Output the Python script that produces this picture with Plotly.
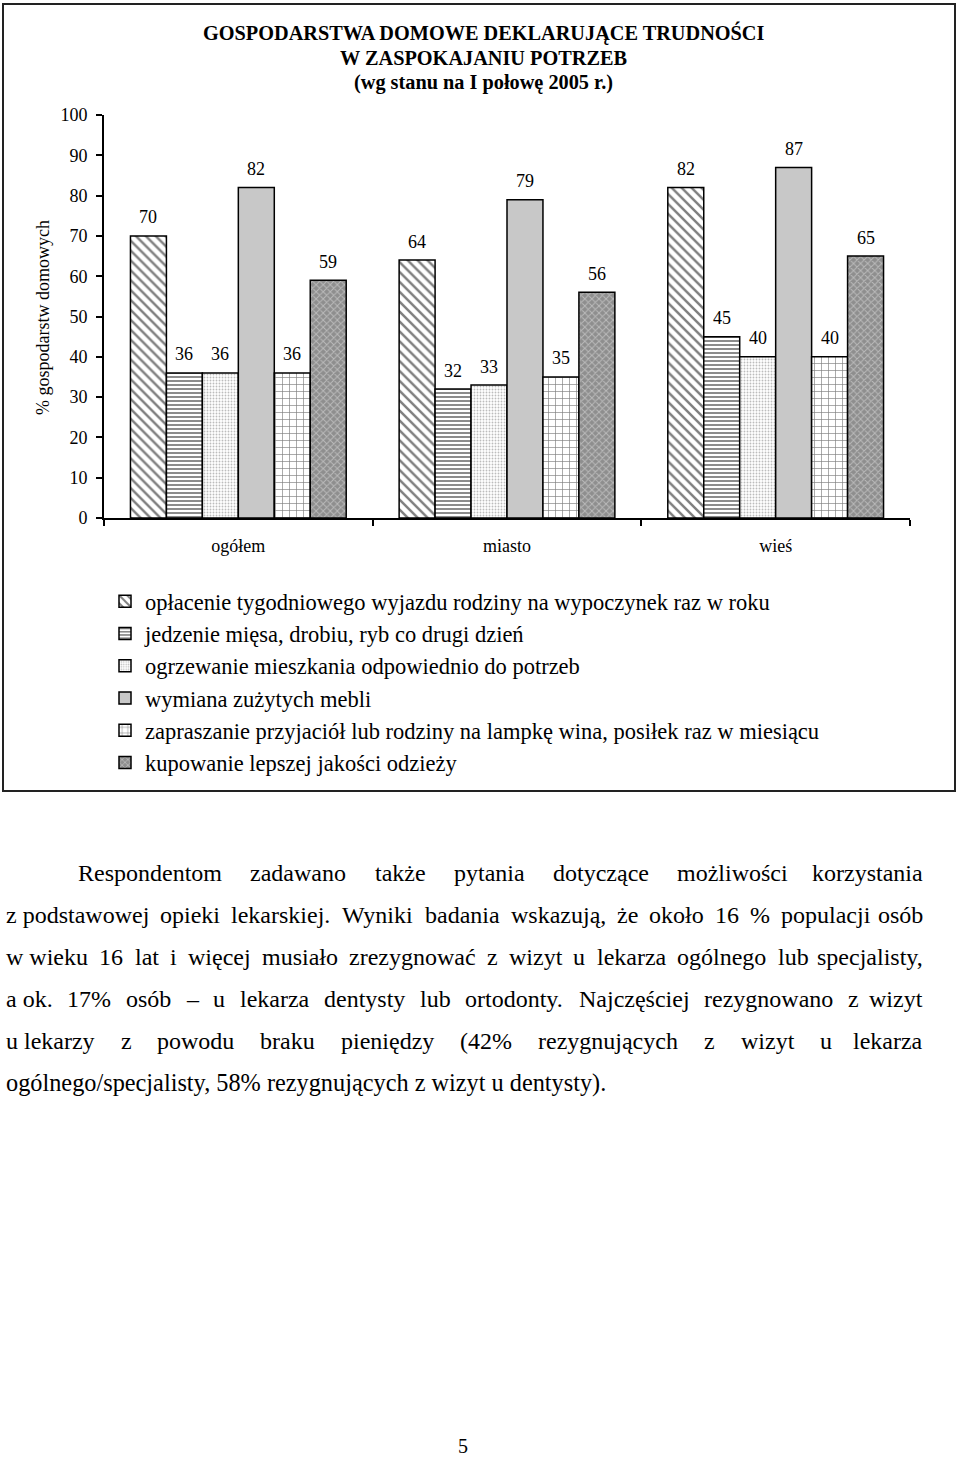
import plotly.graph_objects as go

# ---------------- data ----------------
categories = ["ogółem", "miasto", "wieś"]
series_names = [
    "opłacenie tygodniowego wyjazdu rodziny na wypoczynek raz w roku",
    "jedzenie mięsa, drobiu, ryb co drugi dzień",
    "ogrzewanie mieszkania odpowiednio do potrzeb",
    "wymiana zużytych mebli",
    "zapraszanie przyjaciół lub rodziny na lampkę wina, posiłek raz w miesiącu",
    "kupowanie lepszej jakości odzieży",
]
wyjazd = [70, 64, 82]
jedzenie = [36, 32, 45]
ogrzewanie = [36, 33, 40]
meble = [82, 79, 87]
zapraszanie = [36, 35, 40]
odziez = [59, 56, 65]
series_values = [wyjazd, jedzenie, ogrzewanie, meble, zapraszanie, odziez]

y_ticks = [0, 10, 20, 30, 40, 50, 60, 70, 80, 90, 100]

title_lines = [
    "GOSPODARSTWA DOMOWE DEKLARUJĄCE TRUDNOŚCI",
    "W ZASPOKAJANIU POTRZEB",
    "(wg stanu na I połowę 2005 r.)",
]
y_title = "% gospodarstw domowych"

paragraph_lines = [
    "Respondentom zadawano także pytania dotyczące możliwości korzystania",
    "z\u00a0podstawowej opieki lekarskiej. Wyniki badania wskazują, że około 16 % populacji osób",
    "w\u00a0wieku 16 lat i więcej musiało zrezygnować z wizyt u lekarza ogólnego lub specjalisty,",
    "a\u00a0ok. 17% osób – u lekarza dentysty lub ortodonty. Najczęściej rezygnowano z wizyt",
    "u\u00a0lekarzy z powodu braku pieniędzy (42% rezygnujących z wizyt u lekarza",
    "ogólnego/specjalisty, 58% rezygnujących z wizyt u dentysty).",
]
page_number = "5"

# ---------------- layout constants ----------------
W, H = 960, 1460
ML, MR, MT, MB = 104, 50, 115, 942
PW, PH = W - ML - MR, H - MT - MB
BARGAP = 0.197
SERIF = "Liberation Serif, Times New Roman, serif"


def px2x(px):
    return (px - ML) / PW


def py2y(py):
    return (H - MB - py) / PH


patterns = [
    dict(shape="\\", fgcolor="black", bgcolor="white", size=7, solidity=0.35),
    dict(shape="-", fgcolor="black", bgcolor="white", size=4, solidity=0.45),
    dict(shape=".", fgcolor="#7a7a7a", bgcolor="white", size=3, solidity=0.3),
    None,
    dict(shape="+", fgcolor="black", bgcolor="white", size=7, solidity=0.18),
    dict(shape="x", fgcolor="#e6e6e6", bgcolor="#8e8e8e", size=5, solidity=0.35),
]
base_colors = ["white", "white", "white", "#c8c8c8", "white", "#8e8e8e"]

fig = go.Figure()
for i, (name, vals) in enumerate(zip(series_names, series_values)):
    marker = dict(color=base_colors[i], line=dict(color="black", width=1.5))
    if patterns[i] is not None:
        marker["pattern"] = patterns[i]
    fig.add_trace(go.Bar(x=categories, y=vals, name=name, marker=marker,
                         legendgroup=str(i), hoverinfo="skip"))

annotations = []
# data labels
bar_px = PW / len(categories) * (1 - BARGAP) / len(series_values)
n = len(series_values)
for i, vals in enumerate(series_values):
    for c, v in zip(categories, vals):
        annotations.append(dict(
            x=c, y=v, xref="x", yref="y", text=str(v), showarrow=False,
            xshift=(i - (n - 1) / 2) * bar_px, yshift=18.5,
            yanchor="middle", xanchor="center",
            font=dict(family=SERIF, size=18, color="black")))

# title
for k, (line, py) in enumerate(zip(title_lines, [33, 58, 83])):
    annotations.append(dict(
        x=px2x(483), y=py2y(py), xref="paper", yref="paper", text="<b>%s</b>" % line,
        showarrow=False, xanchor="center", yanchor="middle",
        font=dict(family=SERIF, size=20.3, color="black")))

# y axis title
annotations.append(dict(
    x=px2x(43), y=py2y(317), xref="paper", yref="paper", text=y_title,
    showarrow=False, textangle=-90, xanchor="center", yanchor="middle",
    font=dict(family=SERIF, size=18, color="black")))

# paragraph (justified) using Times metrics
TW = {' ': 250, '\u00a0': 250, '%': 833, '(': 333, ')': 333, ',': 250, '-': 333, '.': 250,
      '/': 278, ':': 278, ';': 278, '–': 500,
      'A': 722, 'B': 667, 'C': 667, 'D': 722, 'E': 611, 'F': 556, 'G': 722, 'H': 722,
      'I': 333, 'J': 389, 'K': 722, 'L': 611, 'M': 889, 'N': 722, 'O': 722, 'P': 556,
      'R': 667, 'S': 556, 'T': 611, 'U': 722, 'W': 944, 'Z': 611,
      'a': 444, 'b': 500, 'c': 444, 'd': 500, 'e': 444, 'f': 333, 'g': 500, 'h': 500,
      'i': 278, 'j': 278, 'k': 500, 'l': 278, 'm': 778, 'n': 500, 'o': 500, 'p': 500,
      'q': 500, 'r': 333, 's': 389, 't': 278, 'u': 500, 'v': 500, 'w': 722, 'x': 500,
      'y': 500, 'z': 444, 'ą': 444, 'ę': 444, 'ó': 500, 'ł': 278, 'ż': 444, 'ź': 444,
      'ś': 389, 'ć': 444, 'ń': 500, 'Ś': 556, 'Ą': 722}
PFS = 24


def tw(s):
    return sum(TW.get(ch, 500) for ch in s) * PFS / 1000.0


para_left = [76, 4, 4, 4, 4, 4]
para_right = 925
para_y = [873, 915, 957, 999, 1041, 1083]
for li, line in enumerate(paragraph_lines):
    words = line.split(" ")
    y = py2y(para_y[li])
    if li == len(paragraph_lines) - 1:
        annotations.append(dict(x=px2x(para_left[li]), y=y, xref="paper", yref="paper",
                                text=line, showarrow=False, xanchor="left", yanchor="middle",
                                font=dict(family=SERIF, size=24.3, color="black")))
        continue
    total = sum(tw(w) for w in words)
    gap = (para_right - para_left[li] - total) / (len(words) - 1)
    xpos = para_left[li]
    for wi, w in enumerate(words):
        if wi == len(words) - 1:
            annotations.append(dict(x=px2x(para_right), y=y, xref="paper", yref="paper",
                                    text=w, showarrow=False, xanchor="right", yanchor="middle",
                                    font=dict(family=SERIF, size=PFS, color="black")))
        else:
            annotations.append(dict(x=px2x(xpos), y=y, xref="paper", yref="paper",
                                    text=w, showarrow=False, xanchor="left", yanchor="middle",
                                    font=dict(family=SERIF, size=PFS, color="black")))
        xpos += tw(w) + gap

annotations.append(dict(x=px2x(463), y=py2y(1446), xref="paper", yref="paper",
                        text=page_number, showarrow=False, xanchor="center", yanchor="middle",
                        font=dict(family=SERIF, size=20, color="black")))

shapes = [dict(type="rect", xref="paper", yref="paper",
               x0=px2x(3), x1=px2x(955), y0=py2y(4), y1=py2y(791),
               line=dict(color="#222222", width=2), fillcolor="rgba(0,0,0,0)", layer="below")]

fig.update_layout(
    width=W, height=H,
    margin=dict(l=ML, r=MR, t=MT, b=MB, autoexpand=False),
    paper_bgcolor="white", plot_bgcolor="white",
    barmode="group", bargap=BARGAP, bargroupgap=0,
    showlegend=True,
    legend=dict(x=px2x(105), y=py2y(580), xanchor="left", yanchor="top",
                font=dict(family=SERIF, size=22.5, color="black"),
                bgcolor="rgba(0,0,0,0)", traceorder="normal", tracegroupgap=2,
                itemclick=False, itemdoubleclick=False),
    xaxis=dict(type="category", showline=True, linecolor="black", linewidth=2,
               ticks="outside", tickson="boundaries", ticklen=6, tickwidth=1.5, tickcolor="black",
               tickfont=dict(family=SERIF, size=18, color="black"), ticklabelstandoff=10,
               showgrid=False, zeroline=False),
    yaxis=dict(range=[0, 100], tickvals=y_ticks, showline=True, linecolor="black", linewidth=2,
               ticks="outside", ticklen=6, tickwidth=1.5, tickcolor="black",
               tickfont=dict(family=SERIF, size=18, color="black"), ticklabelstandoff=5,
               showgrid=False, zeroline=False),
    annotations=annotations, shapes=shapes,
    font=dict(family=SERIF, color="black"),
)

fig.write_html("out.html")
